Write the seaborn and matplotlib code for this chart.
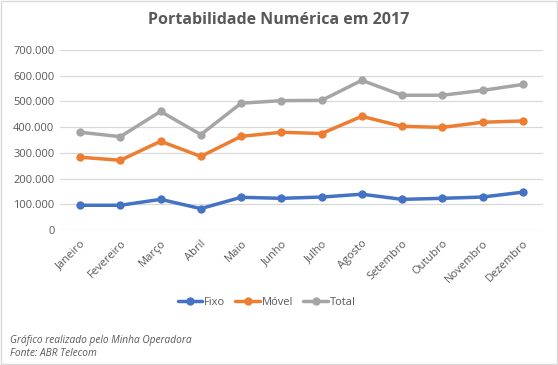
import numpy as np
import pandas as pd
import matplotlib
matplotlib.use('Agg')
import matplotlib.pyplot as plt
import matplotlib.ticker as ticker
import seaborn as sns

# ─── dados ───────────────────────────────────────────────────────────────
meses = ['Janeiro', 'Fevereiro', 'Março', 'Abril', 'Maio', 'Junho', 'Julho',
         'Agosto', 'Setembro', 'Outubro', 'Novembro', 'Dezembro']
fixo  = [96000, 96000, 119000, 83000, 127000, 123000, 128000,
         139000, 119000, 123000, 128000, 147000]
movel = [283000, 271000, 345000, 286000, 364000, 380000, 375000,
         442000, 403000, 399000, 419000, 424000]
total = [380000, 363000, 461000, 371000, 493000, 503000, 504000,
         582000, 524000, 524000, 543000, 566000]
series = ['Fixo', 'Móvel', 'Total']
cores  = {'Fixo': '#4472C4', 'Móvel': '#ED7D31', 'Total': '#A5A5A5'}

df = pd.DataFrame({'mes': meses * 3,
                   'valor': fixo + movel + total,
                   'serie': np.repeat(series, len(meses))})
df['pos'] = np.tile(np.arange(len(meses)), 3)

# ─── estilo ──────────────────────────────────────────────────────────────
sns.set_theme(style='white')
plt.rcParams['font.family'] = ['Open Sans', 'DejaVu Sans']
TXT = '#595959'

fig = plt.figure(figsize=(5.58, 3.65), dpi=100)
ax = fig.add_axes([0.1075, 0.37, 0.8655, 0.493])

sns.lineplot(data=df, x='pos', y='valor', hue='serie', palette=cores,
             marker='o', markersize=6, markeredgewidth=0, linewidth=2.5,
             ax=ax, legend=False)

ax.set_xlim(-0.5, len(meses) - 0.5)
ax.set_ylim(0, 700000)
ax.yaxis.set_major_locator(ticker.MultipleLocator(100000))
ax.yaxis.set_major_formatter(ticker.FuncFormatter(
    lambda v, p: '0' if v == 0 else f'{int(v):,}'.replace(',', '.')))
ax.set_xticks(range(len(meses)))
ax.set_xticklabels(meses, rotation=45, ha='right', rotation_mode='anchor')
ax.tick_params(axis='both', labelsize=8, colors=TXT, length=0, pad=4)
ax.tick_params(axis='x', pad=6)
ax.grid(axis='y', color='#D9D9D9', linewidth=0.9)
ax.set_axisbelow(True)
for s in ax.spines.values():
    s.set_visible(False)
ax.set_xlabel('')
ax.set_ylabel('')

fig.text(0.5, 0.945, 'Portabilidade Numérica em 2017', ha='center', va='center',
         fontsize=11.5, fontweight='bold', color=TXT)

# legenda
handles = [plt.Line2D([], [], color=cores[s], marker='o', markersize=6,
                      markeredgewidth=0, linewidth=2.5) for s in series]
fig.legend(handles, series, loc='center', bbox_to_anchor=(0.478, 0.172),
           ncol=3, frameon=False, fontsize=8, labelcolor=TXT,
           handlelength=2.2, columnspacing=0.9, handletextpad=0.2)

fig.text(0.018, 0.068, 'Gráfico realizado pelo Minha Operadora', fontsize=7.3,
         style='italic', color=TXT, va='center')
fig.text(0.018, 0.032, 'Fonte: ABR Telecom', fontsize=7.3,
         style='italic', color=TXT, va='center')

# moldura
fig.patches.append(plt.Rectangle((0.001, 0.002), 0.997, 0.995,
                                 transform=fig.transFigure, fill=False,
                                 edgecolor='#D9D9D9', linewidth=1))

fig.savefig('out.png', dpi=100)
